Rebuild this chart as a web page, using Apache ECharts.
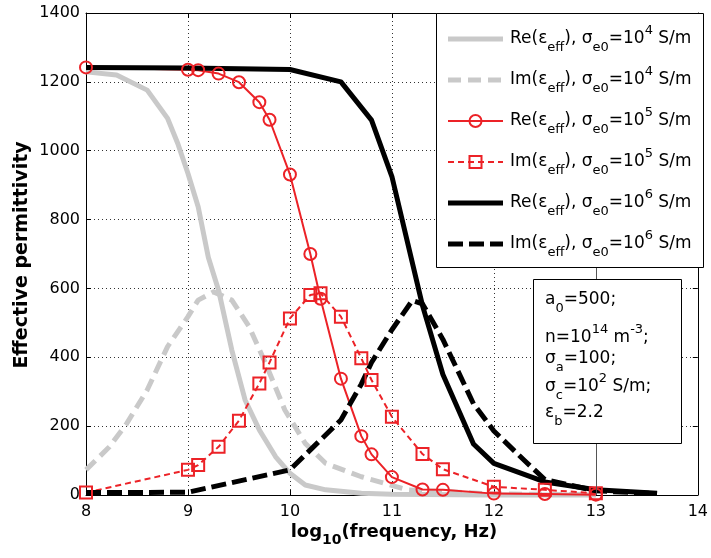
<!DOCTYPE html>
<html>
<head>
<meta charset="utf-8">
<title>Effective permittivity vs frequency</title>
<script src="https://cdn.jsdelivr.net/npm/echarts@6/dist/echarts.min.js"></script>
<style>
  html, body { margin: 0; padding: 0; background: #ffffff; }
  #chart { width: 711px; height: 558px; }
</style>
</head>
<body>
<div id="chart"></div>
<script>
// Axis ticks
const xTicks = [8, 9, 10, 11, 12, 13, 14];
const yTicks = [0, 200, 400, 600, 800, 1000, 1200, 1400];

// sigma_e0 = 1e4 S/m
const logf4Re = [8, 8.3, 8.6, 8.8, 8.9, 9, 9.1, 9.2, 9.3, 9.43, 9.56, 9.7, 9.86, 10, 10.15, 10.35, 10.7, 11, 12, 13];
const re4 = [1229, 1220, 1176, 1094, 1021, 934, 837, 690, 595, 421, 276, 189, 111, 63, 29, 15, 5, 2, 0, 0];
const logf4Im = [8, 8.23, 8.4, 8.6, 8.8, 9, 9.1, 9.25, 9.43, 9.6, 9.76, 9.95, 10.15, 10.35, 10.7, 11.15, 12, 13];
const im4 = [73, 140, 208, 305, 431, 518, 566, 590, 566, 489, 383, 247, 150, 92, 53, 15, 3, 1];

// sigma_e0 = 1e5 S/m
const logf5 = [8, 9, 9.1, 9.3, 9.5, 9.7, 9.8, 10, 10.2, 10.3, 10.5, 10.7, 10.8, 11, 11.3, 11.5, 12, 12.5, 13];
const re5 = [1242, 1235, 1234, 1224, 1199, 1141, 1090, 931, 700, 570, 338, 171, 118, 52, 16, 15, 4, 3, 1];
const im5 = [7, 73, 87, 140, 216, 324, 385, 513, 581, 586, 518, 397, 334, 227, 119, 75, 24, 15, 5];

// sigma_e0 = 1e6 S/m
const logf6Re = [8, 9, 10, 10.5, 10.8, 11, 11.3, 11.5, 11.8, 12, 12.5, 13, 13.6];
const re6 = [1242, 1240, 1236, 1200, 1089, 925, 550, 350, 148, 92, 38, 15, 5];
const logf6Im = [8, 9, 10, 10.5, 10.7, 10.8, 11, 11.2, 11.3, 11.5, 11.8, 12, 12.3, 12.5, 13, 13.6];
const im6 = [7, 8, 73, 218, 322, 385, 480, 565, 555, 452, 265, 186, 100, 45, 12, 4];

// Parameter annotation lines
const paramLines = [
  '{n|a}{sub|0}{n|=500;}',
  '{n|n=10}{sup|14}{n| m}{sup|-3}{n|;}',
  '{n|σ}{sub|a}{n|=100;}',
  '{n|σ}{sub|c}{n|=10}{sup|2}{n| S/m;}',
  '{n|ε}{sub|b}{n|=2.2}'
];

// Legend entries
const legendLabels = [
  '{n|Re(ε}{sub|eff}{n|), σ}{sub|e0}{n|=10}{sup|4}{n| S/m}',
  '{n|Im(ε}{sub|eff}{n|), σ}{sub|e0}{n|=10}{sup|4}{n| S/m}',
  '{n|Re(ε}{sub|eff}{n|), σ}{sub|e0}{n|=10}{sup|5}{n| S/m}',
  '{n|Im(ε}{sub|eff}{n|), σ}{sub|e0}{n|=10}{sup|5}{n| S/m}',
  '{n|Re(ε}{sub|eff}{n|), σ}{sub|e0}{n|=10}{sup|6}{n| S/m}',
  '{n|Im(ε}{sub|eff}{n|), σ}{sub|e0}{n|=10}{sup|6}{n| S/m}'
];

const FONT = "'DejaVu Sans', 'Liberation Sans', Arial, sans-serif";
const GRAY = '#c9c9c9';
const RED = '#ec2227';
const BLACK = '#000000';
const ZTOP = 100;

function pairs(xs, ys) { return xs.map((x, i) => [x, ys[i]]); }

function richStyles(size, bold) {
  const w = bold ? 'bold' : 'normal';
  return {
    n:   { fontSize: size, fontFamily: FONT, fontWeight: w, lineHeight: 30, verticalAlign: 'middle', fill: '#000' },
    sub: { fontSize: Math.round(size * 0.76), fontFamily: FONT, fontWeight: w, lineHeight: 13, verticalAlign: 'bottom', fill: '#000' },
    sup: { fontSize: Math.round(size * 0.76), fontFamily: FONT, fontWeight: w, lineHeight: 20, verticalAlign: 'top', fill: '#000' }
  };
}

// Line styles shared by plot and legend
const styles = [
  { color: GRAY,  width: 5, dash: 'solid' },
  { color: GRAY,  width: 5, dash: [13, 7] },
  { color: RED,   width: 2, dash: 'solid', symbol: 'circle' },
  { color: RED,   width: 2, dash: [6, 4],  symbol: 'rect' },
  { color: BLACK, width: 5, dash: 'solid' },
  { color: BLACK, width: 5, dash: [15, 6] }
];

function lineSeries(data, st, extra) {
  const s = {
    type: 'line',
    data: data,
    clip: false,
    silent: true,
    animation: false,
    showSymbol: !!st.symbol,
    symbol: st.symbol || 'none',
    symbolSize: 12,
    lineStyle: { color: st.color, width: st.width, type: st.dash, cap: 'butt', join: 'round' },
    itemStyle: { color: 'rgba(0,0,0,0)', borderColor: st.color, borderWidth: 2 },
    emphasis: { disabled: true }
  };
  return Object.assign(s, extra || {});
}

const series = [
  lineSeries(pairs(logf4Re, re4), styles[0], {
    markLine: {
      silent: true,
      symbol: ['none', 'none'],
      label: { show: false },
      lineStyle: { color: '#555', width: 1, type: 'solid' },
      data: [{ xAxis: xTicks[5] }]
    }
  }),
  lineSeries(pairs(logf4Im, im4), styles[1]),
  lineSeries(pairs(logf5, re5), styles[2]),
  lineSeries(pairs(logf5, im5), styles[3]),
  lineSeries(pairs(logf6Re, re6), styles[4]),
  lineSeries(pairs(logf6Im, im6), styles[5])
];

// Legend box drawn as graphic elements
const graphics = [{
  type: 'rect', z: ZTOP,
  shape: { x: 436.5, y: 13.5, width: 267, height: 254 },
  style: { fill: '#fff', stroke: '#000', lineWidth: 1 }
}];
const rowY = [39, 80, 121, 162, 203, 244];
styles.forEach((st, i) => {
  const y = rowY[i];
  graphics.push({
    type: 'line', z: ZTOP + 1,
    shape: { x1: 448, y1: y, x2: 503, y2: y },
    style: { stroke: st.color, lineWidth: st.width, lineDash: st.dash === 'solid' ? null : st.dash, lineCap: 'butt' }
  });
  if (st.symbol === 'circle') {
    graphics.push({ type: 'circle', z: ZTOP + 2, shape: { cx: 475.5, cy: y, r: 6 }, style: { fill: 'rgba(0,0,0,0)', stroke: st.color, lineWidth: 2 } });
  } else if (st.symbol === 'rect') {
    graphics.push({ type: 'rect', z: ZTOP + 2, shape: { x: 469.5, y: y - 6, width: 12, height: 12 }, style: { fill: 'rgba(0,0,0,0)', stroke: st.color, lineWidth: 2 } });
  }
  graphics.push({
    type: 'text', z: ZTOP + 2, x: 510, y: y,
    style: { text: legendLabels[i], rich: richStyles(17, false), verticalAlign: 'middle', align: 'left' }
  });
});

// Parameter box
graphics.push({
  type: 'rect', z: ZTOP,
  shape: { x: 533.5, y: 279.5, width: 148, height: 164 },
  style: { fill: '#fff', stroke: '#000', lineWidth: 1 }
});
const paramY = [300, 338, 359, 387, 413];
paramLines.forEach((t, i) => {
  graphics.push({
    type: 'text', z: ZTOP + 2, x: 545, y: paramY[i],
    style: { text: t, rich: richStyles(17, false), verticalAlign: 'middle', align: 'left' }
  });
});

// Axis titles
graphics.push({
  type: 'text', z: ZTOP, x: 394, y: 532,
  style: { text: '{n|log}{sub|10}{n|(frequency, Hz)}', rich: richStyles(18, true), align: 'center', verticalAlign: 'middle' }
});
graphics.push({
  type: 'text', z: ZTOP, x: 22, y: 255, rotation: Math.PI / 2,
  style: { text: 'Effective permittivity', font: 'bold 19px ' + FONT, fill: '#000', align: 'center', verticalAlign: 'middle' }
});

const chart = echarts.init(document.getElementById('chart'), null, { renderer: 'canvas' });
chart.setOption({
  animation: false,
  backgroundColor: '#ffffff',
  grid: { left: 86, top: 13, right: 8, bottom: 63, containLabel: false },
  xAxis: [{
    type: 'value', min: xTicks[0], max: xTicks[xTicks.length - 1], interval: 1,
    axisLine: { show: true, onZero: false, lineStyle: { color: '#000', width: 1 } },
    axisTick: { show: true, inside: true, length: 5, lineStyle: { color: '#000' } },
    axisLabel: { show: true, margin: 9, color: '#000', fontSize: 16, fontFamily: FONT, showMinLabel: true, showMaxLabel: true, formatter: v => String(v) },
    splitLine: { show: true, lineStyle: { color: '#333', width: 1, type: [1, 3] } }
  }, {
    type: 'value', position: 'top', min: xTicks[0], max: xTicks[xTicks.length - 1], interval: 1,
    axisLine: { show: true, onZero: false, lineStyle: { color: '#000', width: 1 } },
    axisTick: { show: true, inside: true, length: 5, lineStyle: { color: '#000' } },
    axisLabel: { show: false }, splitLine: { show: false }
  }],
  yAxis: [{
    type: 'value', min: yTicks[0], max: yTicks[yTicks.length - 1], interval: 200,
    axisLine: { show: true, onZero: false, lineStyle: { color: '#000', width: 1 } },
    axisTick: { show: true, inside: true, length: 5, lineStyle: { color: '#000' } },
    axisLabel: { show: true, margin: 6, color: '#000', fontSize: 16, fontFamily: FONT, showMinLabel: true, showMaxLabel: true, formatter: v => String(v) },
    splitLine: { show: true, lineStyle: { color: '#333', width: 1, type: [1, 3] } }
  }, {
    type: 'value', position: 'right', min: yTicks[0], max: yTicks[yTicks.length - 1], interval: 200,
    axisLine: { show: true, onZero: false, lineStyle: { color: '#000', width: 1 } },
    axisTick: { show: true, inside: true, length: 5, lineStyle: { color: '#000' } },
    axisLabel: { show: false }, splitLine: { show: false }
  }],
  series: series,
  graphic: { elements: graphics }
});
</script>
</body>
</html>
